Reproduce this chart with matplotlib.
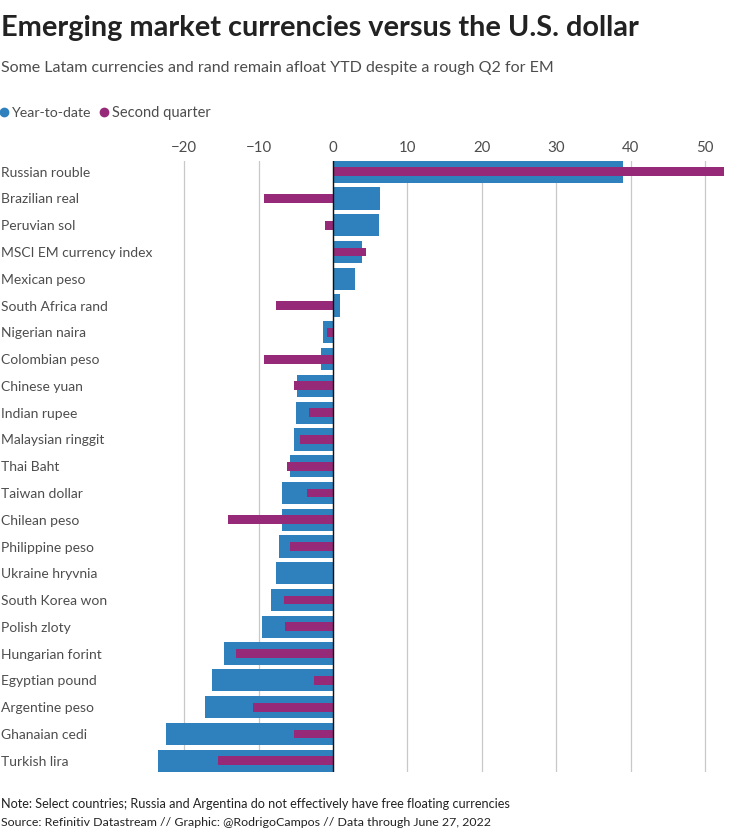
import matplotlib

matplotlib.use("Agg")
import matplotlib.pyplot as plt
import numpy as np

currencies = [
    "Russian rouble", "Brazilian real", "Peruvian sol", "MSCI EM currency index",
    "Mexican peso", "South Africa rand", "Nigerian naira", "Colombian peso",
    "Chinese yuan", "Indian rupee", "Malaysian ringgit", "Thai Baht",
    "Taiwan dollar", "Chilean peso", "Philippine peso", "Ukraine hryvnia",
    "South Korea won", "Polish zloty", "Hungarian forint", "Egyptian pound",
    "Argentine peso", "Ghanaian cedi", "Turkish lira",
]
ytd = [39.0, 6.3, 6.2, 3.9, 2.9, 0.9, -1.3, -1.6, -4.8, -5.0, -5.3, -5.8, -6.9,
       -6.9, -7.2, -7.6, -8.4, -9.6, -14.7, -16.3, -17.2, -22.5, -23.5]
q2 = [52.5, -9.3, -1.1, 4.4, 0.2, -7.6, -0.8, -9.3, -5.2, -3.2, -4.5, -6.2, -3.5,
      -14.1, -5.8, 0.2, -6.6, -6.4, -13.0, -2.5, -10.7, -5.3, -15.5]
xticks = [-20, -10, 0, 10, 20, 30, 40, 50]

BLUE = "#2e81bd"
PURPLE = "#962a78"
TEXT = "#4d4d4d"
DARK = "#222222"

plt.rcParams["font.family"] = ["Lato", "DejaVu Sans"]

fig = plt.figure(figsize=(7.36, 8.33), dpi=100)
ax = fig.add_axes([0, 1 - 771.8 / 833, 1, (771.8 - 160.6) / 833])

y = np.arange(len(currencies))
ax.barh(y, ytd, height=0.83, color=BLUE, zorder=2)
ax.barh(y, q2, height=0.33, color=PURPLE, zorder=3)

# x range set so 0 falls at 333 px and 10 units span 74.4 px
ax.set_xlim(-333 / 7.44, (736 - 333) / 7.44)
ax.set_ylim(len(currencies) - 1 + 0.415, -0.415)

ax.set_xticks(xticks)
ax.set_xticklabels([str(t).replace("-", "\u2212") for t in xticks])
ax.xaxis.tick_top()
ax.tick_params(axis="x", length=0, pad=4, labelsize=10.8, labelcolor=TEXT)
ax.set_yticks([])
ax.grid(axis="x", color="#c8c8c8", linewidth=0.9, zorder=1)
ax.axvline(0, color="#111111", linewidth=1, zorder=4)
for spine in ax.spines.values():
    spine.set_visible(False)
ax.patch.set_alpha(0)

for yi, name in zip(y, currencies):
    ax.annotate(name, xy=(0, yi), xycoords=("axes fraction", "data"), xytext=(1, -1),
                textcoords="offset pixels", va="center", ha="left", fontsize=10, color=TEXT)

fig.text(1 / 736, 1 - 28 / 833, "Emerging market currencies versus the U.S. dollar",
         fontsize=20.8, fontweight="bold", color=DARK, va="center")
fig.text(1 / 736, 1 - 68 / 833, "Some Latam currencies and rand remain afloat YTD despite a rough Q2 for EM",
         fontsize=11.55, color=TEXT, va="center")

# legend row
fig.text(12 / 736, 1 - 113 / 833, "Year-to-date", fontsize=10.2, color=TEXT, va="center")
fig.text(112 / 736, 1 - 113 / 833, "Second quarter", fontsize=10.5, color=TEXT, va="center")
fig.add_artist(plt.Line2D([4 / 736], [1 - 112 / 833], marker="o", markersize=6, color=BLUE,
                          transform=fig.transFigure))
fig.add_artist(plt.Line2D([103.5 / 736], [1 - 112 / 833], marker="o", markersize=6, color=PURPLE,
                          transform=fig.transFigure))

fig.text(1 / 736, 1 - 804 / 833, "Note: Select countries; Russia and Argentina do not effectively have free floating currencies",
         fontsize=9.08, color=DARK, va="center")
fig.text(1 / 736, 1 - 822 / 833, "Source: Refinitiv Datastream // Graphic: @RodrigoCampos // Data through June 27, 2022",
         fontsize=8.9, color=DARK, va="center")

fig.savefig("out.png", dpi=100)
